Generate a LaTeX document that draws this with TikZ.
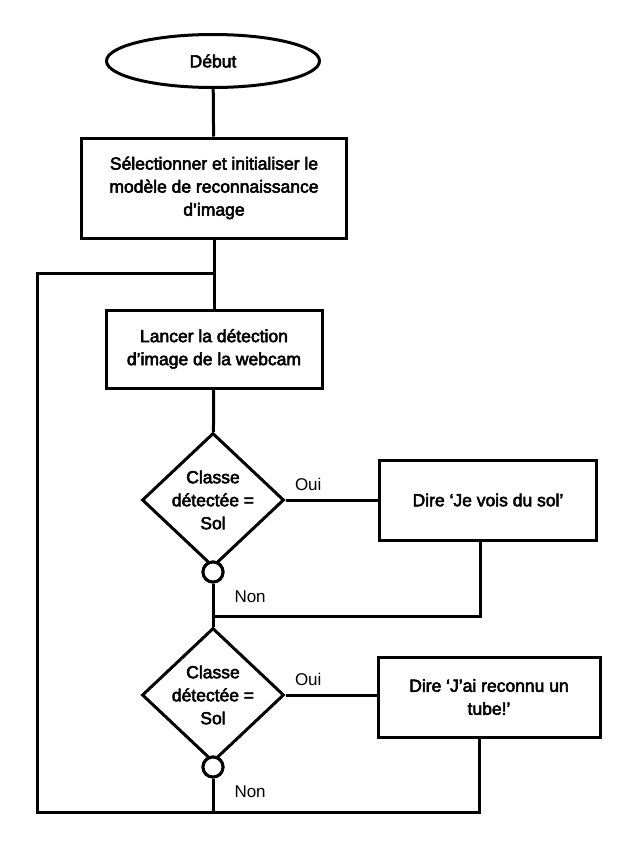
\documentclass[tikz,border=0pt]{standalone}
\usepackage{fontspec}
\setmainfont{Liberation Sans}
\newfontfamily\medfont{Liberation Sans}[FakeBold=3]
\usetikzlibrary{shapes.geometric}
\tikzset{%
  % Specifications for style of nodes:
        base/.style = {draw=black, line width=3pt, text centered, align=center,
                       font=\medfont\fontsize{17.5}{23}\selectfont},
   startstop/.style = {base, ellipse, minimum width=213pt, minimum height=53pt},
     process/.style = {base, rectangle, inner sep=0pt},
    decision/.style = {base, diamond, minimum width=142pt, minimum height=134pt,
                       inner sep=0pt},
  decisionText/.style = {align=center, font=\medfont\fontsize{17.5}{23}\selectfont},
     junction/.style = {draw=black, circle, line width=3pt, fill=white,
                       minimum size=20pt, inner sep=0pt},
      answer/.style = {font=\fontsize{17}{20}\selectfont, inner sep=0pt},
}

\begin{document}
\begin{tikzpicture}[x=1pt, y=-1pt, line width=3pt]
  \useasboundingbox (0,0) rectangle (633,846);
  % Specification of nodes (position, etc.)
  \node (start)  [startstop] at (213,61) {Début};
  \node (init)   [process, minimum width=265pt, minimum height=100pt] at (214,188)
                 {Sélectionner et initialiser le\\modèle de reconnaissance\\d’image};
  \node (detect) [process, minimum width=216pt, minimum height=78pt] at (214,349)
                 {Lancer la détection\\d’image de la webcam};
  \node (test1)  [decision, label={[decisionText]center:Classe\\détectée =\\Sol}] at (213,500) {};
  \node (say1)   [process, minimum width=217pt, minimum height=80pt] at (488,500)
                 {Dire ‘Je vois du sol’};
  \node (test2)  [decision, label={[decisionText]center:Classe\\détectée =\\Sol}] at (213,695) {};
  \node (say2)   [process, minimum width=222pt, minimum height=80pt] at (489,697)
                 {Dire ‘J’ai reconnu un\\tube!’};
  \node (nodeA)  [junction] at (213,572) {};
  \node (nodeB)  [junction] at (213,767) {};

  \coordinate (loopTop)    at (213,273);
  \coordinate (mergeA)     at (213,616);
  \coordinate (mergeB)     at (213,812);
  \coordinate (loopCorner) at (37,812);

  % Specification of lines between nodes specified above
  \draw (start) -- (init);
  \draw (init) -- (detect);
  \draw (detect) -- (test1);
  \draw (test1.east) -- node[answer, pos=0, anchor=south west, xshift=8pt, yshift=8pt] {Oui} (say1.west |- test1.east);
  \draw (nodeA) -- node[answer, pos=0, anchor=north west, xshift=20pt, yshift=-6pt] {Non} (mergeA) -- (test2);
  \draw ([xshift=-8pt]say1.south) |- (mergeA);
  \draw (test2.east) -- node[answer, pos=0, anchor=south west, xshift=8pt, yshift=8pt] {Oui} (say2.west |- test2.east);
  \draw (nodeB) -- node[answer, pos=0, anchor=north west, xshift=20pt, yshift=-6pt] {Non} (mergeB);
  \draw ([xshift=-10pt]say2.south) |- (loopCorner) |- (loopTop);
  \node [junction] at (nodeA) {};
  \node [junction] at (nodeB) {};
\end{tikzpicture}
\end{document}
